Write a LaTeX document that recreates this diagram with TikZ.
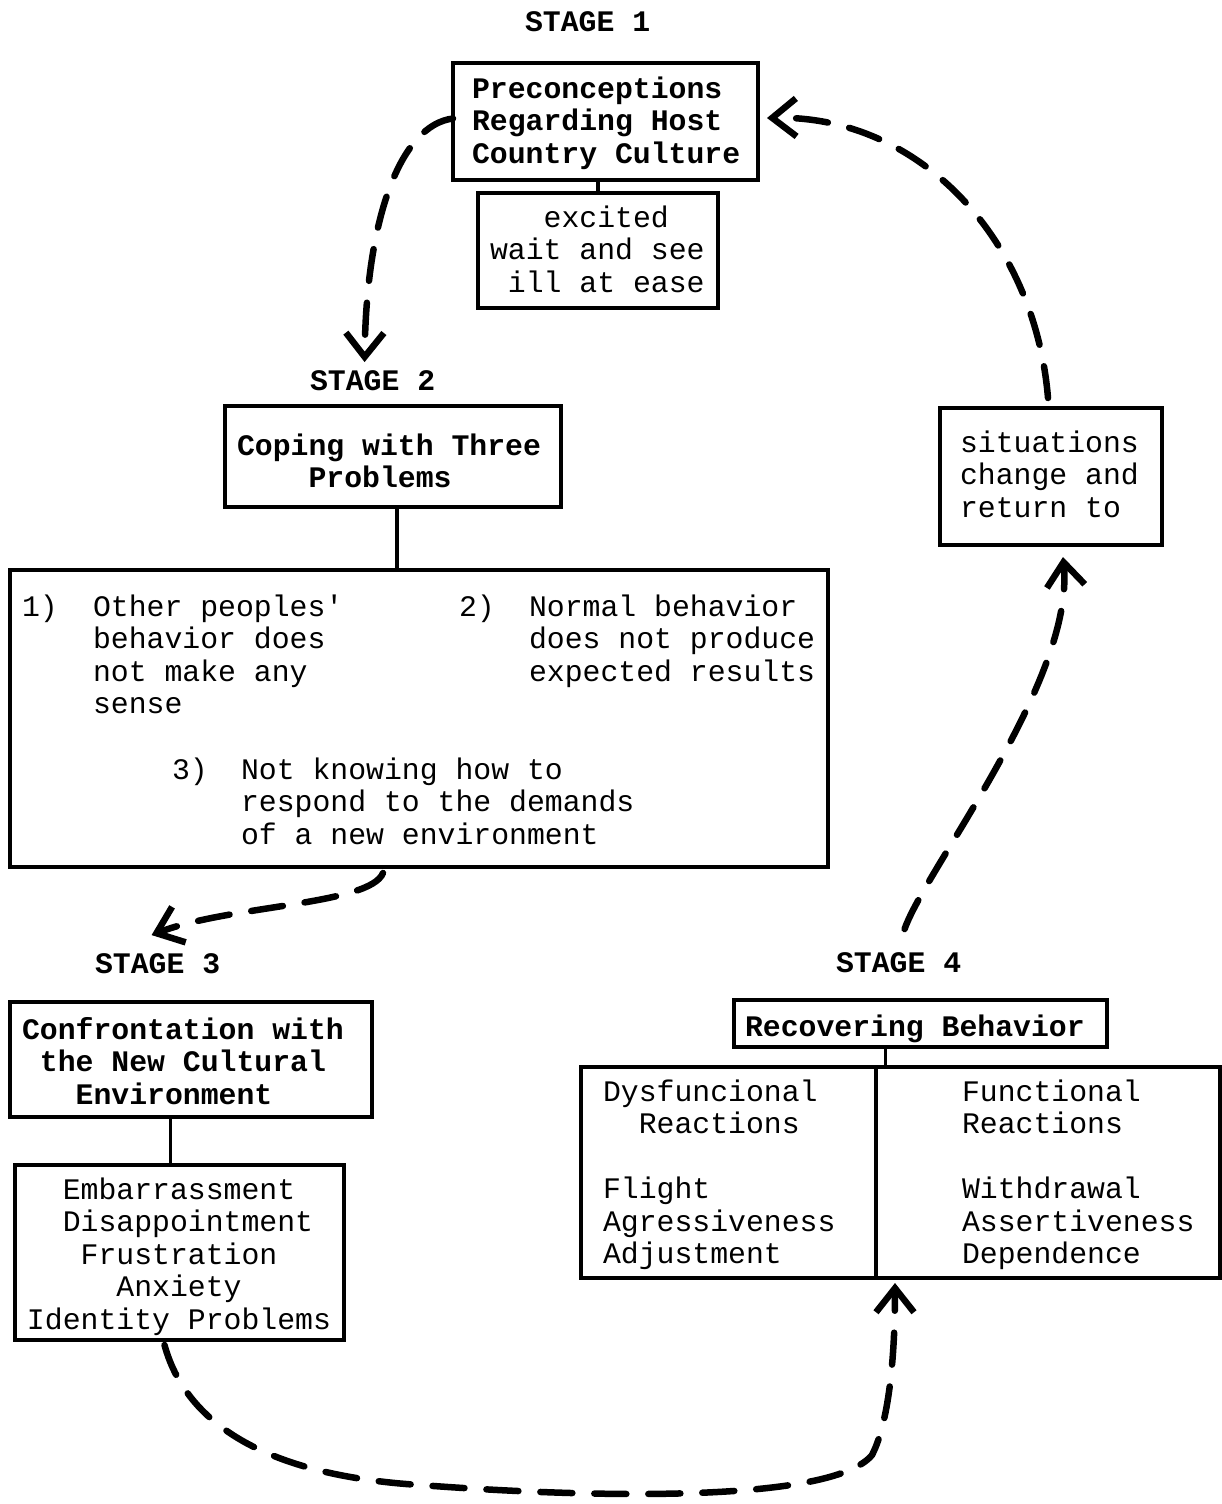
\documentclass[tikz,border=0pt]{standalone}
\usepackage{fontspec}
\setmainfont{Liberation Mono}
\newfontfamily\tw{Liberation Mono}
\usetikzlibrary{arrows.meta}
\newcommand\tsz{\fontsize{29.8pt}{32.5pt}\selectfont}
\begin{document}
\begin{tikzpicture}[x=1pt,y=-1pt,
  box/.style={draw, line width=3.5pt, inner sep=0pt, outer sep=0pt, anchor=north west},
  txt/.style={font=\tw\tsz, inner sep=0pt, outer sep=0pt, align=left, anchor=base west},
  btxt/.style={txt, font=\tw\bfseries\tsz},
  sline/.style={line width=3.5pt},
  dcon/.style={line width=6.5pt, dash pattern=on 32pt off 22pt, line cap=round,
               -{Straight Barb[length=24pt,width=38pt]}}]
\useasboundingbox (0,0) rectangle (1222,1504);

% ---------- boxes ----------
\node[box, minimum width=305pt, minimum height=117pt] (b1) at (453,63) {};
\node[box, minimum width=240pt, minimum height=115pt] (b2) at (478,193) {};
\node[box, minimum width=336pt, minimum height=101pt] (b3) at (225,406) {};
\node[box, minimum width=818pt, minimum height=297pt] (b4) at (10,570) {};
\node[box, minimum width=362pt, minimum height=115pt] (b5) at (10,1002) {};
\node[box, minimum width=329pt, minimum height=175pt] (b6) at (15,1165) {};
\node[box, minimum width=373pt, minimum height=47pt] (b7) at (734,1000) {};
\node[box, minimum width=295pt, minimum height=211pt] (b8l) at (581,1067) {};
\node[box, minimum width=344pt, minimum height=211pt] (b8r) at (876,1067) {};
\node[box, minimum width=222pt, minimum height=137pt] (b9) at (940,408) {};

% ---------- stage labels ----------
\node[btxt] (s1) at (525,32) {STAGE 1};
\node[btxt] (s2) at (310,390) {STAGE 2};
\node[btxt] (s3) at (95,973) {STAGE 3};
\node[btxt] (s4) at (836,972) {STAGE 4};

% ---------- texts (anchored at the baseline of their last line) ----------
\node[btxt] (t1) at (472,163) {Preconceptions\\Regarding Host\\Country Culture};
\node[txt] (t2) at (490,292) {\phantom{xxx}excited\\wait and see\\\phantom{x}ill at ease};
\node[btxt] (t3) at (237,487.5) {Coping with Three\\\phantom{xxxx}Problems};
\node[txt] (n1) at (22,616) {1)};
\node[txt] (p1) at (93,713.5) {Other peoples'\\behavior does\\not make any\\sense};
\node[txt] (n2) at (459,616) {2)};
\node[txt] (p2) at (529,681) {Normal behavior\\does not produce\\expected results};
\node[txt] (n3) at (172,779) {3)};
\node[txt] (p3) at (241,844) {Not knowing how to\\respond to the demands\\of a new environment};
\node[btxt] (t5) at (22,1104) {Confrontation with\\\phantom{x}the New Cultural\\\phantom{xxx}Environment};
\node[txt] (t6) at (27,1329) {\phantom{xx}Embarrassment\\\phantom{xx}Disappointment\\\phantom{xxx}Frustration\\\phantom{xxxxx}Anxiety\\Identity Problems};
\node[btxt] (t7) at (745,1036) {Recovering Behavior};
\node[txt] (t8l) at (603,1263.5) {Dysfuncional\\\phantom{xx}Reactions\\\strut\\Flight\\Agressiveness\\Adjustment};
\node[txt] (t8r) at (962,1263.5) {Functional\\Reactions\\\strut\\Withdrawal\\Assertiveness\\Dependence};
\node[txt] (t9) at (960,517) {situations\\change and\\return to};

% ---------- solid connectors ----------
\draw[sline] (b2.north |- b1.south) -- (b2.north);
\draw[sline] ([xshift=4pt]b3.south) -- ([xshift=4pt]b3.south |- b4.north);
\draw[sline] ([xshift=-9pt]b6.north |- b5.south) -- ([xshift=-9pt]b6.north);
\draw[sline] ([xshift=-35pt]b7.south) -- ([xshift=-35pt]b7.south |- b8r.north);

% ---------- dashed arrows ----------
\draw[dcon] ([yshift=3pt]b1.west) .. controls (400,125) and (366,220) .. ([xshift=-8pt,yshift=8pt]s2.north);
\draw[dcon] ([xshift=-36pt,yshift=-6pt]b4.south) .. controls (370,905) and (230,905) .. ([xshift=-6pt,yshift=18pt]s3.north);
\draw[dcon] ([xshift=-15pt,yshift=-5pt]b6.south) .. controls (185,1420) and (260,1475) .. (420,1485)
   .. controls (620,1500) and (835,1500) .. (872,1455)
   .. controls (890,1420) and (895,1350) .. ([xshift=19pt,yshift=-5pt]b8r.south west);
\draw[dcon] ([xshift=6pt,yshift=23pt]s4.north) .. controls (925,870) and (1075,680) .. ([xshift=12pt,yshift=-12pt]b9.south);
\draw[dcon] ([xshift=-3pt,yshift=10pt]b9.north) .. controls (1035,240) and (920,115) .. ([xshift=9pt,yshift=3.5pt]b1.east);
\end{tikzpicture}
\end{document}
